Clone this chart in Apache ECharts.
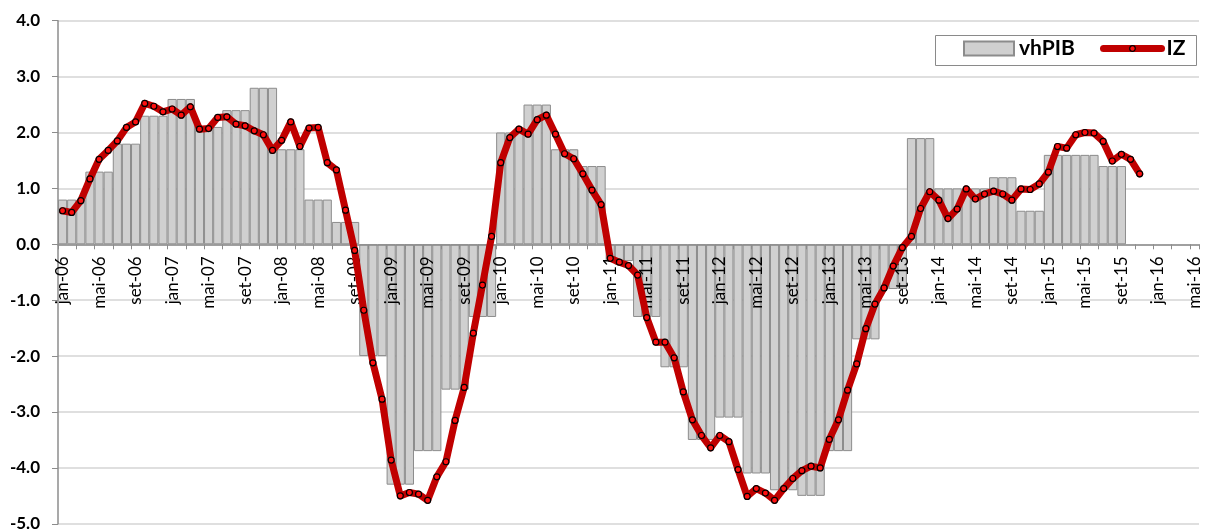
<!DOCTYPE html>
<html>
<head>
<meta charset="utf-8">
<script src="https://cdn.jsdelivr.net/npm/echarts@6/dist/echarts.min.js"></script>
<style>
html,body{margin:0;padding:0;background:#fff;}
#chart{width:1207px;height:529px;}
</style>
</head>
<body>
<div id="chart"></div>
<script>
// Month names (Portuguese) and years for the category axis
var monthNames = ["jan","fev","mar","abr","mai","jun","jul","ago","set","out","nov","dez"];
var years = ["06","07","08","09","10","11","12","13","14","15","16"];
var nCategories = 125; // jan-06 .. mai-16

// vhPIB: quarterly values (Q1 2006 .. Q3 2015), each spans 3 months
var vhPIBQuarterly = [
  0.8, 1.3, 1.8, 2.3,
  2.6, 2.1, 2.4, 2.8,
  1.7, 0.8, 0.4, -2.0,
  -4.3, -3.7, -2.6, -1.3,
  2.0, 2.5, 1.7, 1.4,
  -0.3, -1.3, -2.2, -3.5,
  -3.1, -4.1, -4.4, -4.5,
  -3.7, -1.7, -0.8, 1.9,
  1.0, 1.0, 1.2, 0.6,
  1.6, 1.6, 1.4
];

// IZ: monthly values (jan-06 .. nov-15)
var IZ = [
  0.60, 0.57, 0.78, 1.17, 1.52, 1.68, 1.85, 2.09, 2.19, 2.52, 2.47, 2.37,
  2.42, 2.31, 2.46, 2.06, 2.07, 2.27, 2.28, 2.15, 2.12, 2.03, 1.96, 1.68,
  1.86, 2.19, 1.75, 2.08, 2.09, 1.46, 1.33, 0.61, -0.11, -1.18, -2.12, -2.77,
  -3.86, -4.50, -4.44, -4.47, -4.58, -4.16, -3.89, -3.15, -2.56, -1.59, -0.73, 0.14,
  1.46, 1.91, 2.06, 1.97, 2.23, 2.31, 1.97, 1.62, 1.53, 1.26, 0.97, 0.71,
  -0.25, -0.32, -0.38, -0.55, -1.31, -1.75, -1.75, -2.03, -2.64, -3.14, -3.42, -3.64,
  -3.42, -3.53, -4.03, -4.51, -4.37, -4.45, -4.58, -4.37, -4.19, -4.05, -3.97, -4.00,
  -3.49, -3.14, -2.61, -2.14, -1.51, -1.07, -0.78, -0.39, -0.06, 0.14, 0.64, 0.94,
  0.79, 0.46, 0.63, 0.99, 0.81, 0.90, 0.95, 0.90, 0.79, 0.99, 0.98, 1.08,
  1.29, 1.75, 1.72, 1.96, 2.00, 1.99, 1.84, 1.49, 1.61, 1.52, 1.26
];

var yTicks = [-5, -4, -3, -2, -1, 0, 1, 2, 3, 4];

var categories = [];
for (var y = 0; y < years.length; y++) {
  for (var m = 0; m < 12; m++) {
    if (categories.length < nCategories) categories.push(monthNames[m] + "-" + years[y]);
  }
}

var barData = [];
for (var i = 0; i < nCategories; i++) {
  var q = Math.floor(i / 3);
  barData.push(q < vhPIBQuarterly.length ? vhPIBQuarterly[q] : '-');
}

var GRID_TOP = 20.7, GRID_BOTTOM = 5.2, H = 529;
var plotH = H - GRID_TOP - GRID_BOTTOM;
// distance (px) from the plot bottom (y=-5) up to the zero line
var zeroOffset = plotH * (0 - yTicks[0]) / (yTicks[yTicks.length - 1] - yTicks[0]);

var FONT = "Lato, 'Noto Sans', sans-serif";
var legendText = {fontFamily: FONT, fontWeight: 'bold', fontSize: 21, color: '#000'};
var markerStyle = {color: '#ff1010', borderColor: '#000', borderWidth: 1.2};
var chart = echarts.init(document.getElementById('chart'), null, {renderer: 'canvas'});
chart.setOption({
  animation: false,
  backgroundColor: '#ffffff',
  grid: {left: 58, right: 8, top: GRID_TOP, bottom: GRID_BOTTOM, containLabel: false, outerBoundsMode: 'none'},
  graphic: [{
    type: 'rect', left: 935, top: 35, z: 10,
    shape: {width: 261, height: 30},
    style: {fill: '#fff', stroke: '#8a8a8a', lineWidth: 1}
  }],
  legend: [
    {
      left: 963, top: 38, padding: 0,
      itemWidth: 50, itemHeight: 14, itemGap: 7,
      textStyle: legendText, z: 12,
      data: [{name: 'vhPIB', icon: 'rect'}]
    },
    {
      left: 1100, top: 38, padding: 0,
      itemWidth: 58, itemHeight: 7,
      textStyle: legendText, z: 12,
      lineStyle: {width: 7, cap: 'round'},
      itemStyle: markerStyle,
      data: [{name: 'IZ'}]
    }
  ],
  xAxis: {
    type: 'category',
    data: categories,
    boundaryGap: true,
    position: 'bottom',
    offset: -zeroOffset,
    axisLine: {onZero: false, lineStyle: {color: '#8c8c8c', width: 1.5}},
    axisTick: {show: true, interval: 1, length: 5, lineStyle: {color: '#8c8c8c', width: 1}},
    axisLabel: {
      interval: 3, rotate: 90, margin: 12,
      fontFamily: FONT, fontSize: 17, color: '#000'
    },
    splitLine: {show: false},
    z: 4
  },
  yAxis: {
    type: 'value',
    min: yTicks[0], max: yTicks[yTicks.length - 1], interval: 1,
    axisLine: {show: true, lineStyle: {color: '#8c8c8c', width: 1.5}},
    axisTick: {show: true, length: 6, lineStyle: {color: '#8c8c8c'}},
    axisLabel: {
      margin: 18,
      fontFamily: FONT, fontWeight: 'bold', fontSize: 17, color: '#000',
      formatter: function (v) { return v.toFixed(1); }
    },
    splitLine: {show: true, lineStyle: {color: '#d4d4d4', width: 1.5}},
    z: 0
  },
  series: [
    {
      name: 'vhPIB',
      type: 'bar',
      data: barData,
      barCategoryGap: 0,
      itemStyle: {color: '#d0d0d0', borderColor: '#8c8c8c', borderWidth: 1},
      z: 2
    },
    {
      name: 'IZ',
      type: 'line',
      data: IZ,
      symbol: 'circle',
      symbolSize: 6,
      showSymbol: true,
      lineStyle: {color: '#c00000', width: 7, cap: 'round', join: 'round'},
      itemStyle: markerStyle,
      z: 6
    }
  ]
});
</script>
</body>
</html>
